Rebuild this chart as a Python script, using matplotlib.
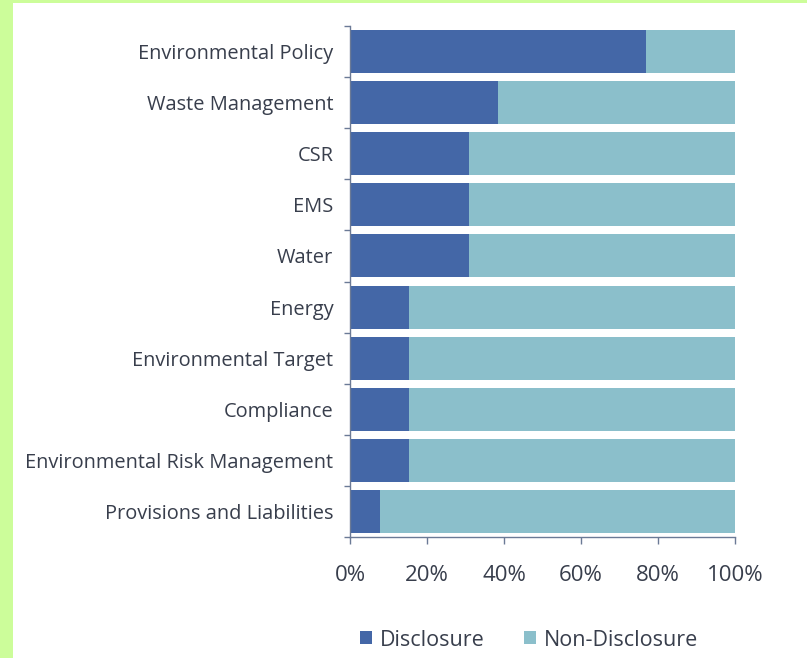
import matplotlib.pyplot as plt
from matplotlib.patches import Rectangle
from matplotlib.ticker import FixedLocator, PercentFormatter

# share of companies (out of 13) disclosing each item
categories = ['Environmental Policy', 'Waste Management', 'CSR', 'EMS', 'Water',
              'Energy', 'Environmental Target', 'Compliance',
              'Environmental Risk Management', 'Provisions and Liabilities']
disclosure = [76.9, 38.5, 30.8, 30.8, 30.8, 15.4, 15.4, 15.4, 15.4, 7.7]
non_disclosure = [100 - v for v in disclosure]
x_ticks = [0, 20, 40, 60, 80, 100]

c_disc = '#4467a7'
c_non = '#8bbfcb'
c_text = '#383e4c'
c_axis = '#6b7a96'

plt.rcParams['font.family'] = ['Open Sans', 'DejaVu Sans']

fig = plt.figure(figsize=(8.07, 6.58), dpi=100)
fig.patch.set_facecolor('white')
# lime frame along the left and top edges
fig.patches.append(Rectangle((0, 0), 13 / 807, 1, transform=fig.transFigure,
                             facecolor='#ccfd9a', edgecolor='none', zorder=0))
fig.patches.append(Rectangle((0, 1 - 3 / 658), 1, 3 / 658, transform=fig.transFigure,
                             facecolor='#ccfd9a', edgecolor='none', zorder=0))

ax = fig.add_axes([350 / 807, 121 / 658, 385 / 807, 511 / 658])

y = list(range(len(categories)))
ax.barh(y, disclosure, height=0.84, color=c_disc, label='Disclosure')
ax.barh(y, non_disclosure, left=disclosure, height=0.84, color=c_non,
        label='Non-Disclosure')

ax.set_xlim(0, 100)
ax.set_ylim(len(categories) - 0.5, -0.5)
ax.set_yticks(y)
ax.set_yticklabels(categories)
ax.yaxis.set_minor_locator(FixedLocator([i - 0.5 for i in range(len(categories) + 1)]))
ax.tick_params(axis='y', which='major', length=0, pad=12, labelsize=14.4,
               labelcolor=c_text)
ax.tick_params(axis='y', which='minor', length=4, width=1, color=c_axis, direction='out')

ax.set_xticks(x_ticks)
ax.xaxis.set_major_formatter(PercentFormatter(decimals=0))
ax.tick_params(axis='x', length=5, width=1, color=c_axis, pad=15, labelsize=16,
               labelcolor=c_text)

for side in ['top', 'right']:
    ax.spines[side].set_visible(False)
for side in ['left', 'bottom']:
    ax.spines[side].set_color(c_axis)
    ax.spines[side].set_linewidth(1)

fig.legend(loc='center', bbox_to_anchor=(529 / 807, 18 / 658), ncol=2, frameon=False,
           fontsize=15.5, handlelength=0.55, handleheight=0.55, handletextpad=0.35,
           columnspacing=1.85, labelcolor=c_text)

fig.savefig('out.png', dpi=100)
